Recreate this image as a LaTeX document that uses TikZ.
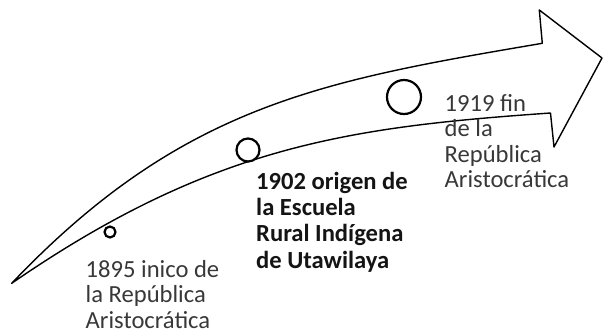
\documentclass[tikz,border=0pt]{standalone}
\usepackage{fontspec}
\setmainfont{Carlito}
\usepackage{tikz}

\begin{document}
\begin{tikzpicture}[x=1pt,y=-1pt,
  hito/.style={circle,draw,fill=white,line width=2.2pt,inner sep=0pt},
  rotulo/.style={anchor=base west,align=left,inner sep=0pt,text=black!78,
    font=\fontsize{24.6}{25.5}\selectfont},
  rotulob/.style={rotulo,text=black!92,font=\fontsize{24.6}{26.4}\selectfont\bfseries}]
\useasboundingbox (0,0) rectangle (603,333);

\coordinate (cola) at (11.7,283.3);
\coordinate (ua) at (542.3,43.3);
\coordinate (pa) at (539.3,10);
\coordinate (punta) at (602,58);
\coordinate (pb) at (554,147);
\coordinate (ub) at (550.5,113);

\draw[line width=1.4pt,line join=round] (cola) .. controls (181.7,104.8) and (322.3,80.7) .. (ua)
  -- (pa) -- (punta) -- (pb) -- (ub)
  .. controls (350.5,127) and (211.7,145.3) .. (cola) -- cycle;

\node[hito,minimum size=11pt] (h1) at (110,232) {};
\node[hito,minimum size=23pt] (h2) at (248,150) {};
\node[hito,minimum size=34pt] (h3) at (404,97) {};

% base = ultima linea
\node[rotulo] (t1) at (85.5,328) {1895 inico de\\la República\\Aristocrática};
\node[rotulob] (t2) at (256,268.2) {1902 origen de\\la Escuela\\Rural Indígena\\de Utawilaya};
\node[rotulo] (t3) at (444.5,187.9) {1919 fin\\de la\\República\\Aristocrática};

\end{tikzpicture}
\end{document}
